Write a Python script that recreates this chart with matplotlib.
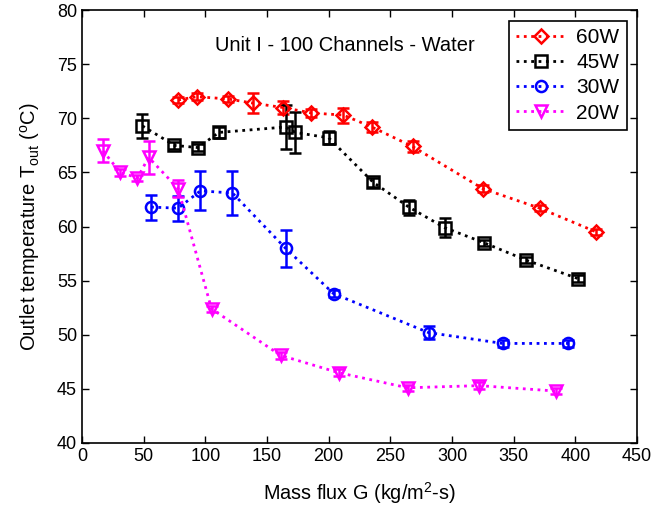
import matplotlib
matplotlib.use('Agg')
import matplotlib.pyplot as plt

plt.rcParams['font.family'] = ['Liberation Sans', 'DejaVu Sans']
plt.rcParams['mathtext.fontset'] = 'custom'
plt.rcParams['mathtext.rm'] = 'Liberation Sans'
plt.rcParams['mathtext.it'] = 'Liberation Sans:italic'

# 60W
g60 = [78, 93, 118, 139, 163, 186, 212, 235, 268, 325, 371, 417]
t60 = [71.7, 72.0, 71.8, 71.4, 71.0, 70.5, 70.3, 69.2, 67.4, 63.5, 61.7, 59.5]
e60 = [0.3, 0.3, 0.3, 0.9, 0.6, 0.4, 0.7, 0.5, 0.5, 0.3, 0.3, 0.3]
# 45W
g45 = [49, 75, 94, 111, 165, 173, 200, 236, 265, 294, 326, 360, 402]
t45 = [69.3, 67.5, 67.3, 68.7, 69.2, 68.7, 68.2, 64.1, 61.8, 59.9, 58.5, 56.9, 55.2]
e45 = [1.1, 0.3, 0.3, 0.5, 2.0, 1.9, 0.6, 0.4, 0.7, 0.9, 0.3, 0.3, 0.3]
# 30W
g30 = [56, 78, 96, 122, 165, 204, 281, 341, 394]
t30 = [61.8, 61.7, 63.3, 63.1, 58.0, 53.8, 50.2, 49.2, 49.2]
e30 = [1.15, 1.15, 1.8, 2.0, 1.7, 0.3, 0.6, 0.3, 0.3]
# 20W
g20 = [17, 31, 45, 54, 78, 105, 161, 208, 264, 322, 384]
t20 = [67.0, 65.0, 64.5, 66.4, 63.5, 52.4, 48.1, 46.5, 45.1, 45.3, 44.8]
e20 = [1.05, 0.3, 0.3, 1.5, 0.8, 0.3, 0.3, 0.3, 0.3, 0.3, 0.3]

SERIES = [(g60, t60, e60, '#ff0000', 'D', 7, '60W'),
          (g45, t45, e45, '#000000', 's', 8, '45W'),
          (g30, t30, e30, '#0000ff', 'o', 8, '30W'),
          (g20, t20, e20, '#ff00ff', 'v', 9, '20W')]

fig = plt.figure(figsize=(6.72, 5.08), dpi=100)
ax = fig.add_axes([0.122, 0.128, 0.826, 0.852])

handles = []
for g, t, e, col, mk, ms, lab in SERIES:
  h = ax.errorbar(g, t, yerr=e, color=col, ls=':', lw=2, marker=mk, ms=ms,
                  mfc='none', mec=col, mew=1.8, ecolor=col, elinewidth=1.8,
                  capsize=4, capthick=1.8, label=lab)
  handles.append(h[0])

ax.text(213, 76.7, 'Unit I - 100 Channels - Water', ha='center', va='center',
        fontsize=14.5)

ax.set_xlim(0, 450)
ax.set_ylim(40, 80)
ax.set_xticks(range(0, 451, 50))
ax.set_yticks(range(40, 81, 5))
ax.tick_params(direction='in', top=True, right=True, labelsize=13,
               length=5, width=1)
for s in ax.spines.values():
  s.set_linewidth(1.2)
ax.set_xlabel('Mass flux G (kg/m$^2$-s)', fontsize=14.3, labelpad=11)
ax.set_ylabel('Outlet temperature T$_{\\mathrm{out}}$ ($^{\\mathrm{o}}$C)',
              fontsize=14.5, labelpad=11)

leg = ax.legend(handles, [s[6] for s in SERIES], loc='upper right',
                fontsize=15, fancybox=False, edgecolor='k', framealpha=1,
                handlelength=2.4, handletextpad=0.5, borderaxespad=0.5,
                labelspacing=0.3, borderpad=0.35)
leg.get_frame().set_linewidth(1.2)

fig.savefig('out.png', dpi=100)
